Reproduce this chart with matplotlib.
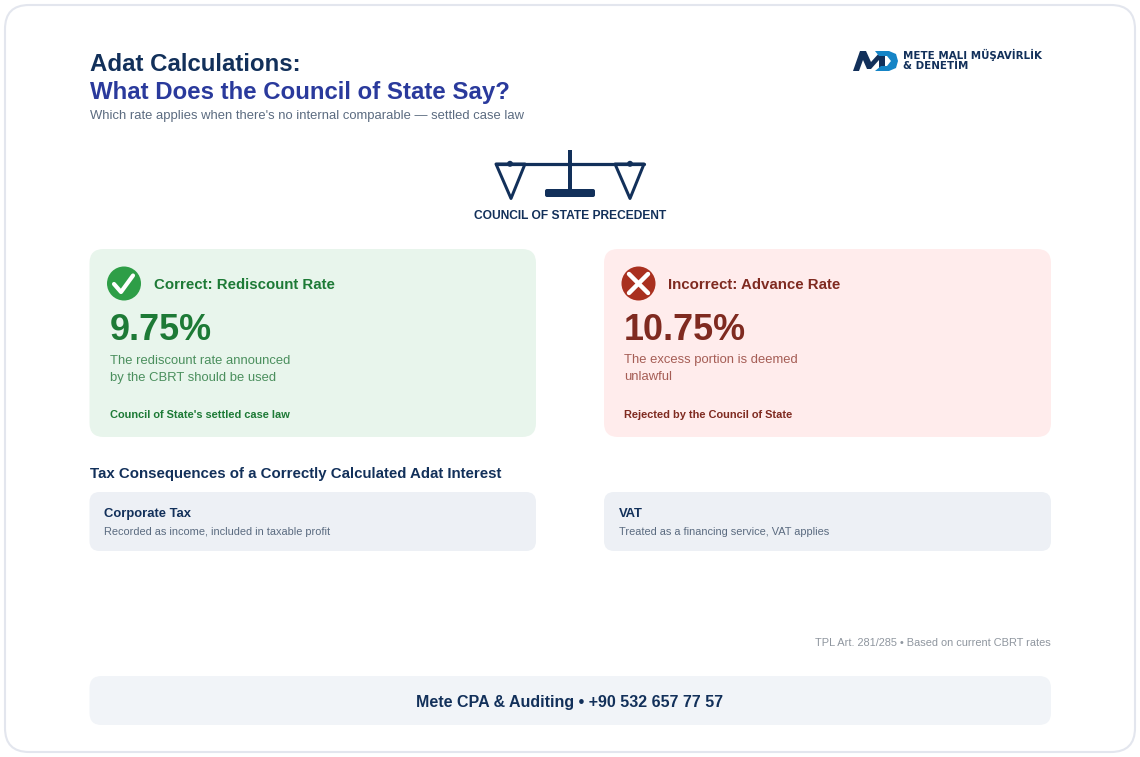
import matplotlib
matplotlib.use("Agg")
import matplotlib.pyplot as plt
from matplotlib.patches import FancyBboxPatch, Circle, Polygon, Wedge

plt.rcParams['font.family'] = ['Liberation Sans', 'DejaVu Sans']

W, H = 1140, 757
TITLE_1 = "Adat Calculations:"
TITLE_2 = "What Does the Council of State Say?"
SUBTITLE = "Which rate applies when there's no internal comparable — settled case law"
EMBLEM = "COUNCIL OF STATE PRECEDENT"
HEADS = ["Correct: Rediscount Rate", "Incorrect: Advance Rate"]
RATES = ["9.75%", "10.75%"]
DESCS = [["The rediscount rate announced", "by the CBRT should be used"],
         ["The excess portion is deemed", "unlawful"]]
NOTES = ["Council of State's settled case law", "Rejected by the Council of State"]
SECTION = "Tax Consequences of a Correctly Calculated Adat Interest"
TAX_HEADS = ["Corporate Tax", "VAT"]
TAX_DESCS = ["Recorded as income, included in taxable profit", "Treated as a financing service, VAT applies"]
SOURCE = "TPL Art. 281/285 • Based on current CBRT rates"
FOOTER = "Mete CPA & Auditing • +90 532 657 77 57"
LOGO = ["METE MALI MÜŞAVİRLİK", "& DENETİM"]

NAVY = "#12305a"
fig = plt.figure(figsize=(W/100, H/100), dpi=100, facecolor="white")
ax = fig.add_axes([0, 0, 1, 1])
ax.set_xlim(0, W); ax.set_ylim(H, 0); ax.axis("off")

def px(s): return s*0.72
def T(x, y, s, size, color, weight="normal", ha="left", **k):
    return ax.text(x, y, s, fontsize=px(size), color=color, fontweight=weight, ha=ha, va="center_baseline", **k)
def box(x0, y0, x1, y1, r, fc, ec="none", lw=0, z=1):
    p = FancyBboxPatch((x0+r, y0+r), x1-x0-2*r, y1-y0-2*r, boxstyle=f"round,pad={r},rounding_size={r}",
                       fc=fc, ec=ec, lw=lw, zorder=z, mutation_aspect=1)
    ax.add_patch(p)

box(5, 5, 1135, 752, 24, "white", "#e3e6ee", 1.5, 0)

T(89.5, 62, TITLE_1, 24, NAVY, "bold")
T(89.5, 90, TITLE_2, 24, "#2a3a9c", "bold")
T(89.5, 114.5, SUBTITLE, 13, "#5b6b80")

# logo
ax.add_patch(Polygon([(853,71),(860,51),(866,51),(871,62),(881,51),(885,51),(885,71),(879,71),(879,60),(871,69),(867,69),(863,60),(859,71)], fc="#12305a", ec="none", zorder=3))
ax.add_patch(Polygon([(875,51),(889,51),(896,54),(898,61),(896,68),(889,71),(875,71),(881,66),(887,66),(891,61),(887,56),(879,56)], fc="#1584c6", ec="none", zorder=4))
T(903, 54, LOGO[0], 10.2, "#12305a", "bold", family="DejaVu Sans")
T(903, 65, LOGO[1], 10.2, "#12305a", "bold", family="DejaVu Sans")

# scales emblem
lw = 3*0.72
ax.plot([496, 644], [164, 164], color=NAVY, lw=3.2*0.72, solid_capstyle="round", zorder=3)
ax.plot([570, 570], [150, 190], color=NAVY, lw=4*0.72, solid_capstyle="butt", zorder=3)
box(545, 189, 595, 197, 2, NAVY, z=3)
for x0 in (496, 615):
    ax.add_patch(Polygon([(x0, 164), (x0+29, 164), (x0+15, 198.5)], closed=True, fc="none", ec=NAVY, lw=lw, joinstyle="round", zorder=3))
for x in (510, 630):
    ax.add_patch(Circle((x, 163.8), 3, fc=NAVY, ec="none", zorder=4))
T(570, 214.5, EMBLEM, 12, NAVY, "bold", ha="center")

# cards
cards = [(89.5, 536, "#e8f5ec", "#2e9e47", "#1d7a36", "#4a8f5d"),
         (604, 1051, "#ffecec", "#a9301f", "#7f2a20", "#a55d55")]
for i, (x0, x1, bg, ic, dark, mid) in enumerate(cards):
    box(x0, 249, x1, 437, 14, bg)
    cx = x0 + 35
    ax.add_patch(Circle((cx-0.5, 283.5), 17, fc=ic, ec="none", zorder=3))
    if i == 0:
        ax.plot([cx-10.5, cx-3.5, cx+8.5], [284, 292, 275.5], color="white", lw=3.2*0.72*1.3, solid_capstyle="round", solid_joinstyle="round", zorder=4)
    else:
        ax.plot([cx-10, cx+9], [274, 293], color="white", lw=3.2, solid_capstyle="round", zorder=4)
        ax.plot([cx-10, cx+9], [293, 274], color="white", lw=3.2, solid_capstyle="round", zorder=4)
    T(x0+64.5, 283.5, HEADS[i], 15, dark, "bold")
    T(x0+20, 326, RATES[i], 36, dark, "bold")
    T(x0+20, 359, DESCS[i][0], 13, mid)
    T(x0+20, 376, DESCS[i][1], 13, mid)
    T(x0+20, 414, NOTES[i], 11, dark, "bold")

T(89.5, 472.5, SECTION, 15, NAVY, "bold")
for i, (x0, x1) in enumerate([(89.5, 536), (604, 1051)]):
    box(x0, 492, x1, 551, 10, "#edf0f5")
    T(x0+15, 512.5, TAX_HEADS[i], 13, NAVY, "bold")
    T(x0+15, 531, TAX_DESCS[i], 11, "#5b6b80")

T(1051, 642.5, SOURCE, 11, "#8f969f", ha="right")
box(89.5, 676, 1051, 725, 12, "#f1f4f8")
T(570, 700.5, FOOTER, 16, NAVY, "bold", ha="center")

fig.savefig("out.png", dpi=100, facecolor="white")
